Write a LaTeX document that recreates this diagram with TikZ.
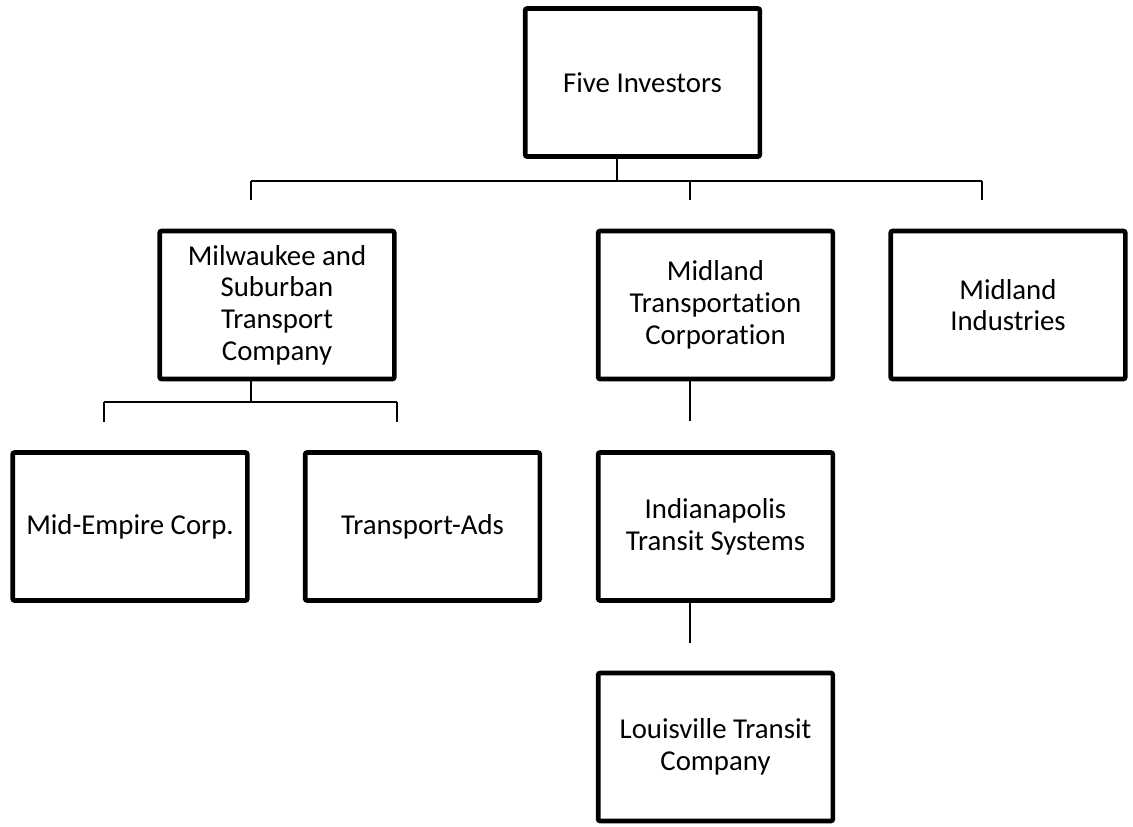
\documentclass[tikz,border=0pt]{standalone}
\usepackage{fontspec}
\setmainfont{Carlito}[RawFeature={-liga;-clig}]
\begin{document}
\begin{tikzpicture}[x=0.75pt,y=-0.75pt,
  orgbox/.style={draw=black,line width=3.5pt,rounded corners=1.5pt,fill=white,
    minimum width=176pt,minimum height=111pt,inner sep=2pt,align=center,
    font=\fontsize{21.6pt}{23.8pt}\selectfont},
  conn/.style={draw=black,line width=1.5pt}]
\useasboundingbox (0,0) rectangle (1133,826);
\node[orgbox] (fi)  at (642.5,82.5) {Five Investors};
\node[orgbox] (mil) at (277,305)    {Milwaukee and\\Suburban\\Transport\\Company};
\node[orgbox] (mtc) at (715.5,305)  {Midland\\Transportation\\Corporation};
\node[orgbox] (mi)  at (1008,305)   {Midland\\Industries};
\node[orgbox] (me)  at (130,526.5)  {Mid-Empire Corp.};
\node[orgbox] (ta)  at (422.5,526.5){Transport-Ads};
\node[orgbox] (ind) at (715.5,526.5){Indianapolis\\Transit Systems};
\node[orgbox] (lou) at (715.5,747)  {Louisville Transit\\Company};
\coordinate (bus1) at (0,181);
\coordinate (bus2) at (0,402);
% top level
\draw[conn] ([xshift=-19.5pt]fi.south) -- ([xshift=-19.5pt]fi.south |- bus1);
\draw[conn] ([xshift=-19.5pt]mil.north |- bus1) coordinate (b1l) -- ([xshift=-19.5pt]mi.north |- bus1) coordinate (b1r);
\draw[conn] (b1l) -- ++(0,19);
\draw[conn] ([xshift=-19.5pt]mtc.north |- bus1) -- ++(0,19);
\draw[conn] (b1r) -- ++(0,19);
% Milwaukee branch
\draw[conn] ([xshift=-19.5pt]mil.south) -- ([xshift=-19.5pt]mil.south |- bus2);
\draw[conn] ([xshift=-19.5pt]me.north |- bus2) coordinate (b2l) -- ([xshift=-19.5pt]ta.north |- bus2) coordinate (b2r);
\draw[conn] (b2l) -- ++(0,20);
\draw[conn] (b2r) -- ++(0,20);
% Midland chain
\draw[conn] ([xshift=-19.5pt]mtc.south) -- ++(0,40);
\draw[conn] ([xshift=-19.5pt]ind.south) -- ++(0,40);
\end{tikzpicture}
\end{document}
